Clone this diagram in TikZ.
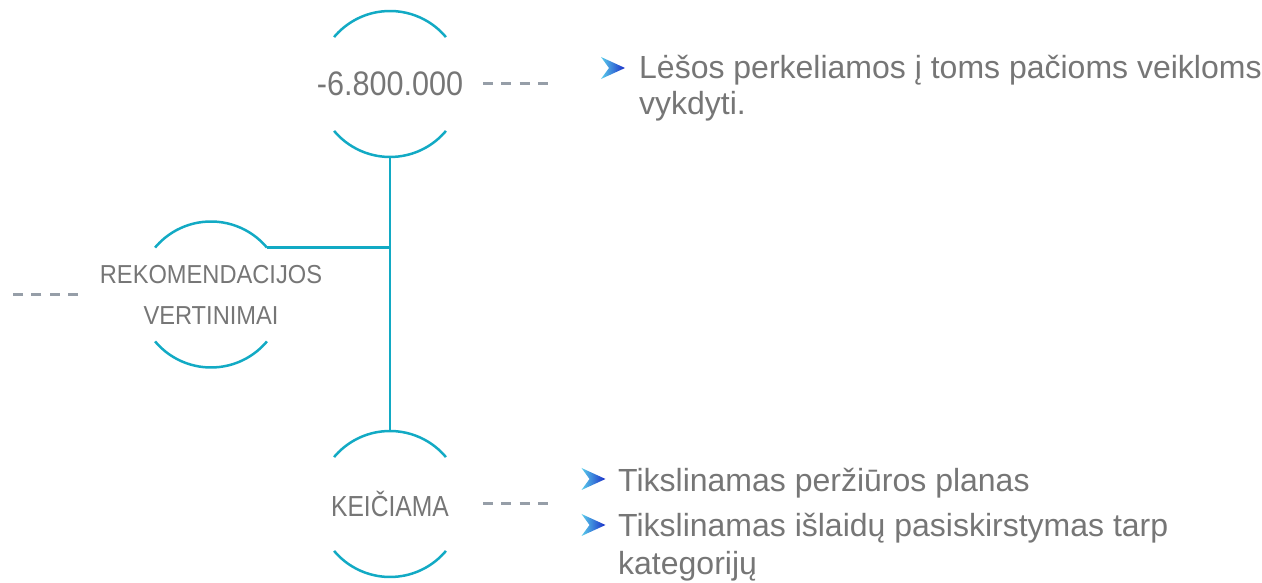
\documentclass[tikz,border=0pt]{standalone}
\usepackage{fontspec}
\setmainfont{Liberation Sans}
\usepackage{graphicx}
\definecolor{arcblue}{RGB}{18,170,196}
\definecolor{txtgray}{RGB}{118,118,118}
\definecolor{dashgray}{RGB}{150,158,168}
\definecolor{tipcyan}{RGB}{90,205,235}
\definecolor{tipblue}{RGB}{25,45,200}

\begin{document}
\begin{tikzpicture}
[x=1pt, y=1pt, every node/.style={color=txtgray},
 ring/.style={circle, minimum size=146pt, inner sep=0pt, outer sep=0pt},
 rim/.style={arcblue, line width=2.5pt},
 gap/.style={dashgray, line width=3pt, dash pattern=on 10pt off 8.3pt},
 bullet/.style={anchor=base west, align=left, inner sep=0pt}]
    \useasboundingbox (0,0) rectangle (1262,583);
    \coordinate (c0) at (390, 499);
    \coordinate (c1) at (211, 288.5);
    \coordinate (c2) at (390, 79);
    \coordinate (b0) at (613, 515);
    \coordinate (b1) at (593.5, 104);
    \coordinate (b2) at (593.5, 58);
    % circles
    \node[ring] (n0) at (c0) {};
    \node[ring] (n1) at (c1) {};
    \node[ring] (n2) at (c2) {};
    \node (l0) at (n0) {\fontsize{34}{34}\selectfont\scalebox{0.9}[1]{-6.800.000}};
    \node[align=center, font=\fontsize{26}{41}\selectfont] (l1) at (n1) {\scalebox{0.91}[1]{REKOMENDACIJOS}\\\scalebox{0.91}[1]{VERTINIMAI}};
    \node (l2) at (n2) {\fontsize{29}{29}\selectfont\scalebox{0.85}[1]{KEIČIAMA}};
    \draw[rim] (n0.40) arc (40:140:73);
    \draw[rim] (n0.220) arc (220:320:73);
    \draw[rim] (n1.40) arc (40:140:73);
    \draw[rim] (n1.220) arc (220:320:73);
    \draw[rim] (n2.40) arc (40:140:73);
    \draw[rim] (n2.220) arc (220:320:73);
    % links
    \draw[rim] (n0.south) -- (n2.north);
    \draw[rim] (n1.40) -- (n1.40 -| n0.south);
    % dashes
    \draw[gap] ([xshift=20pt]n0.east) -- ++(65,0);
    \draw[gap] ([xshift=-60pt]n1.west) -- ++(-68,0);
    \draw[gap] ([xshift=20pt]n2.east) -- ++(65,0);
    % bullets
    \shade[shift={(b0)}, left color=tipcyan, right color=tipblue] (12,0) -- (-12,11) -- (-4,0) -- (-12,-11) -- cycle;
    \shade[shift={(b1)}, left color=tipcyan, right color=tipblue] (12,0) -- (-12,11) -- (-4,0) -- (-12,-11) -- cycle;
    \shade[shift={(b2)}, left color=tipcyan, right color=tipblue] (12,0) -- (-12,11) -- (-4,0) -- (-12,-11) -- cycle;
    \node[bullet, font=\fontsize{32}{36}\selectfont] (t0) at (639, 468) {Lėšos perkeliamos į toms pačioms veikloms\\vykdyti.};
    \node[bullet, font=\fontsize{32}{38}\selectfont] (t1) at (618, 91) {Tikslinamas peržiūros planas};
    \node[bullet, font=\fontsize{32}{38}\selectfont] (t2) at (618, 8) {Tikslinamas išlaidų pasiskirstymas tarp\\kategorijų};
\end{tikzpicture}
\end{document}
